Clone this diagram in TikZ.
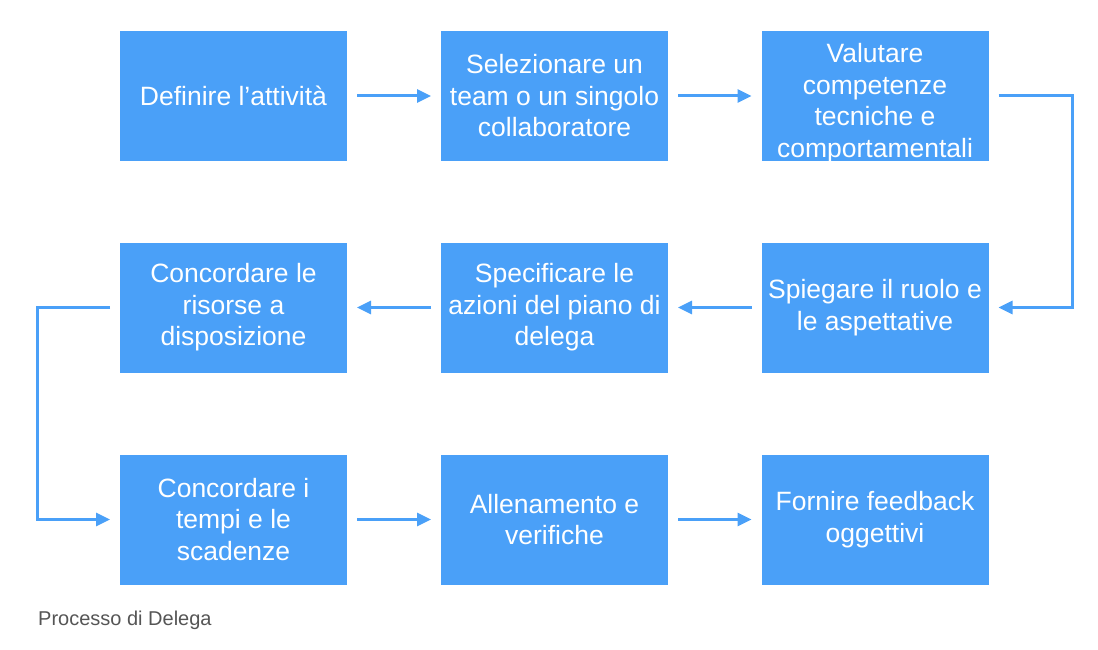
\documentclass[tikz,border=0pt]{standalone}
\usepackage{fontspec}
\setmainfont{Liberation Sans}
\usetikzlibrary{arrows.meta}
\definecolor{boxblue}{RGB}{74,160,248}
\definecolor{capgray}{RGB}{85,85,85}
\begin{document}
\begin{tikzpicture}[x=1pt,y=-1pt,
  box/.style={draw=none,fill=boxblue,minimum width=227pt,minimum height=130pt,inner sep=0pt,outer sep=0pt},
  lbl/.style={text=white,align=center,font=\fontsize{26.5}{31.5}\selectfont,inner sep=0pt},
  conn/.style={draw=boxblue,line width=3pt,-{Triangle[length=14pt,width=13pt]}}]
\useasboundingbox (0,0) rectangle (1098,650);
% boxes
\node[box] (b1) at (233.5,96) {};
\node[box] (b2) at (554.5,96) {};
\node[box] (b3) at (875,96) {};
\node[box] (b4) at (875,307.5) {};
\node[box] (b5) at (554.5,307.5) {};
\node[box] (b6) at (233.5,307.5) {};
\node[box] (b7) at (233.5,519.5) {};
\node[box] (b8) at (554.5,519.5) {};
\node[box] (b9) at (875,519.5) {};
% labels
\node[lbl] (t1) at (b1) {Definire l’attività};
\node[lbl] (t2) at (b2) {Selezionare un\\team o un singolo\\collaboratore};
\begin{scope}
\clip (b3.north west) rectangle (b3.south east);
\node[lbl] (t3) at ([yshift=-7pt]b3.center) {Valutare\\competenze\\tecniche e\\comportamentali};
\end{scope}
\node[lbl] (t4) at (b4) {Spiegare il ruolo e\\le aspettative};
\node[lbl] (t5) at (b5) {Specificare le\\azioni del piano di\\delega};
\node[lbl] (t6) at (b6) {Concordare le\\risorse a\\disposizione};
\node[lbl] (t7) at (b7) {Concordare i\\tempi e le\\scadenze};
\node[lbl] (t8) at (b8) {Allenamento e\\verifiche};
\node[lbl] (t9) at (b9) {Fornire feedback\\oggettivi};
% connectors
\draw[conn] ([xshift=10pt]b1.east) -- ([xshift=-10pt]b2.west);
\draw[conn] ([xshift=10pt]b2.east) -- ([xshift=-10pt]b3.west);
\coordinate (r1) at (1072,96);
\coordinate (r2) at (1072,307.5);
\draw[conn] ([xshift=10pt]b3.east) -- (r1) -- (r2) -- ([xshift=10pt]b4.east);
\draw[conn] ([xshift=-10pt]b4.west) -- ([xshift=10pt]b5.east);
\draw[conn] ([xshift=-10pt]b5.west) -- ([xshift=10pt]b6.east);
\coordinate (l1) at (37,307.5);
\coordinate (l2) at (37,519.5);
\draw[conn] ([xshift=-10pt]b6.west) -- (l1) -- (l2) -- ([xshift=-10pt]b7.west);
\draw[conn] ([xshift=10pt]b7.east) -- ([xshift=-10pt]b8.west);
\draw[conn] ([xshift=10pt]b8.east) -- ([xshift=-10pt]b9.west);
% caption
\node[anchor=west,text=capgray,font=\fontsize{20}{23}\selectfont,inner sep=0pt] (cap) at (38,620) {Processo di Delega};
\end{tikzpicture}
\end{document}
